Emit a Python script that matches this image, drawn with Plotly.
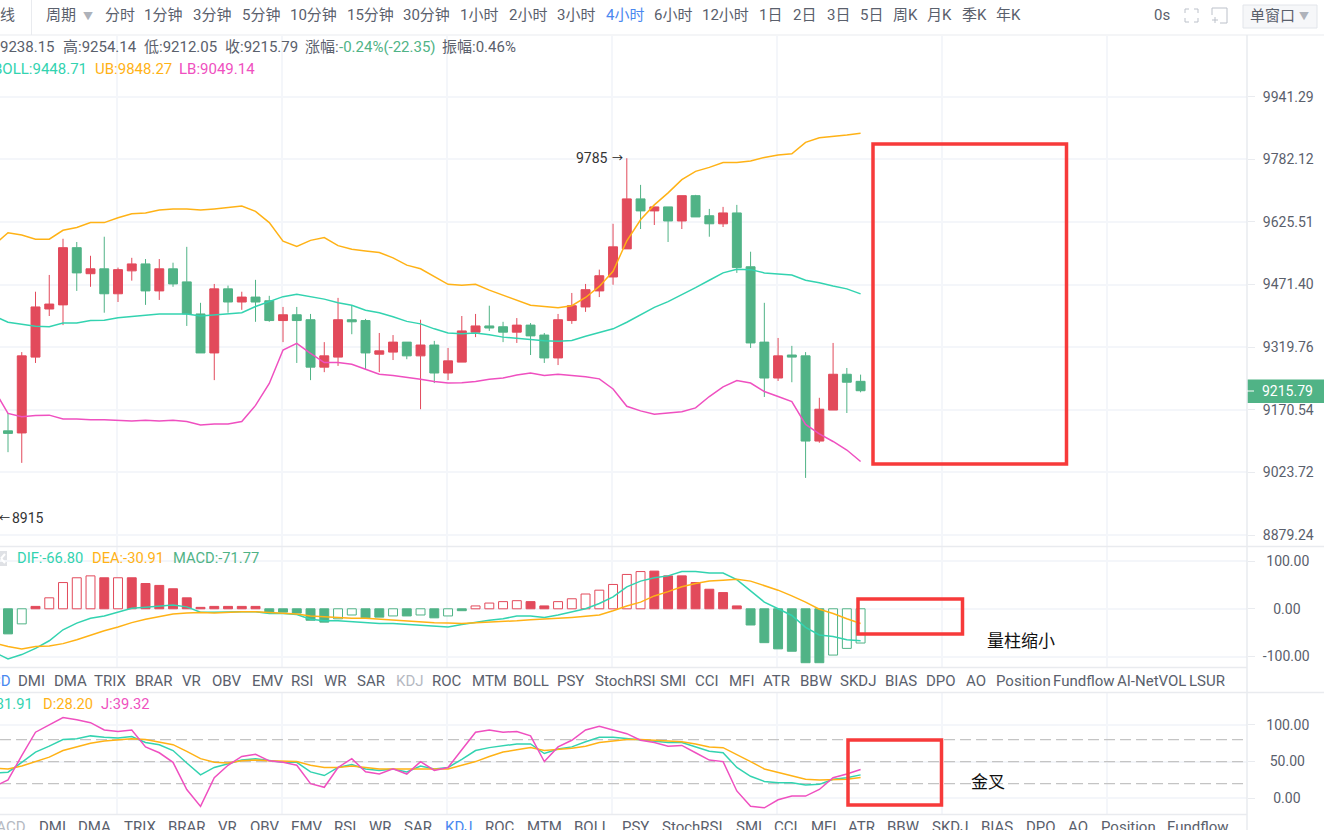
import plotly.graph_objects as go

W, H = 1324, 830
FONT = "Roboto, 'Noto Sans CJK SC', sans-serif"

UP = "#e24a5b"
DOWN = "#50b386"
TEAL = "#33d3b0"
ORANGE = "#ffb216"
PINK = "#ef50c0"
BOX_RED = "#f73a3a"
TEXT = "#5a606c"
LINE = "#e9ebef"
GRID = "#f4f6fa"

# candles, oldest first
opens = [9121, 9116, 9296, 9412, 9422, 9562, 9498, 9510, 9449, 9505, 9522, 9456, 9510, 9478, 9400, 9306,
         9461, 9429, 9441, 9432, 9384, 9398, 9386, 9272, 9296, 9386, 9384, 9303, 9308, 9332, 9299, 9325,
         9258, 9284, 9356, 9371, 9369, 9356, 9373, 9349, 9294, 9384, 9417, 9456, 9490, 9559, 9683, 9653,
         9663, 9628, 9691, 9641, 9621, 9648, 9515, 9332, 9246, 9301, 9299, 9097, 9170, 9255, 9238.15]
highs = [9163, 9308, 9454, 9495, 9584, 9576, 9542, 9589, 9513, 9537, 9534, 9534, 9525, 9564, 9427, 9473,
         9469, 9454, 9483, 9444, 9417, 9417, 9400, 9332, 9439, 9420, 9388, 9354, 9349, 9332, 9386, 9335,
         9318, 9395, 9400, 9420, 9381, 9390, 9378, 9354, 9400, 9451, 9473, 9508, 9621, 9785, 9718, 9663,
         9663, 9691, 9693, 9658, 9663, 9668, 9552, 9427, 9342, 9323, 9308, 9199, 9330, 9270, 9254.14]
lows = [9071, 9046, 9282, 9395, 9373, 9456, 9466, 9403, 9429, 9481, 9422, 9434, 9466, 9371, 9306, 9241,
        9403, 9410, 9381, 9381, 9332, 9282, 9241, 9260, 9275, 9351, 9267, 9260, 9289, 9291, 9172, 9234,
        9241, 9284, 9344, 9359, 9332, 9330, 9301, 9282, 9277, 9376, 9405, 9441, 9471, 9559, 9608, 9618,
        9576, 9608, 9638, 9589, 9613, 9500, 9318, 9201, 9239, 9236, 9011, 9093, 9170, 9163, 9212.05]
closes = [9115, 9299, 9417, 9424, 9562, 9500, 9510, 9449, 9508, 9522, 9456, 9510, 9473, 9400, 9306, 9461,
          9429, 9441, 9429, 9384, 9398, 9384, 9272, 9299, 9386, 9381, 9306, 9311, 9332, 9299, 9325, 9258,
          9287, 9359, 9371, 9366, 9356, 9373, 9347, 9294, 9386, 9420, 9459, 9493, 9564, 9683, 9653, 9663,
          9628, 9691, 9638, 9621, 9648, 9513, 9330, 9246, 9299, 9296, 9097, 9172, 9255, 9236, 9215.79]

# boll runs one bar further left than the first visible candle
boll_ub = [9569, 9599, 9593, 9583, 9583, 9605, 9612, 9624, 9624, 9636, 9646, 9648, 9655, 9658, 9658, 9655,
           9658, 9661, 9665, 9652, 9624, 9578, 9565, 9580, 9587, 9567, 9558, 9554, 9550, 9537, 9519, 9510,
           9491, 9472, 9470, 9472, 9458, 9446, 9434, 9421, 9418, 9415, 9420, 9440, 9467, 9504, 9579, 9631,
           9668, 9698, 9731, 9752, 9762, 9774, 9774, 9778, 9787, 9793, 9796, 9825, 9837, 9840, 9844, 9848.27]
boll_mid = [9395, 9380, 9375, 9370, 9369, 9378, 9378, 9384, 9385, 9391, 9394, 9397, 9400, 9400, 9400, 9395,
            9398, 9400, 9403, 9418, 9430, 9442, 9448, 9442, 9436, 9427, 9421, 9409, 9403, 9393, 9382, 9376,
            9364, 9354, 9352, 9354, 9350, 9344, 9341, 9339, 9335, 9334, 9336, 9346, 9355, 9364, 9380, 9398,
            9416, 9430, 9448, 9464, 9482, 9500, 9509, 9508, 9500, 9497, 9495, 9482, 9476, 9468, 9461, 9448.71]
boll_lb = [9218, 9162, 9154, 9157, 9158, 9149, 9149, 9147, 9147, 9146, 9144, 9146, 9144, 9146, 9143, 9135,
           9137, 9137, 9143, 9181, 9233, 9313, 9329, 9305, 9283, 9283, 9279, 9267, 9255, 9252, 9248, 9243,
           9238, 9234, 9235, 9238, 9243, 9246, 9253, 9258, 9252, 9255, 9252, 9249, 9244, 9220, 9179, 9168,
           9160, 9163, 9166, 9175, 9202, 9225, 9240, 9234, 9214, 9202, 9190, 9136, 9114, 9096, 9076, 9049.14]

macd_hist = [-52.6, -31.6, 5, 23, 55, 65, 69, 65, 65, 65, 53, 49, 42, 23, 3, 5,
             5, 5, 5, -7, -7, -9, -24, -28, -21, -13, -19, -17.5, -15, -15, -13, -19,
             -15, -4, 6, 12, 15, 17, 15, 6, 15, 21, 31, 39, 51, 72, 78, 79,
             69, 69, 55, 41, 34, 6, -34, -71, -84, -89, -113, -113, -97, -83, -71.77]
macd_hollow = [0, 1, 0, 1, 1, 1, 1, 0, 1, 0, 0, 0, 0, 0, 0, 0,
               0, 0, 0, 0, 0, 0, 0, 0, 1, 1, 0, 0, 1, 0, 1, 0,
               1, 0, 1, 1, 1, 1, 0, 0, 1, 1, 1, 1, 1, 1, 1, 0,
               0, 0, 0, 0, 0, 0, 0, 0, 0, 0, 0, 0, 1, 1, 1]
dif = [-91, -105, -96, -83, -67, -44, -30, -20, -15, -7, 1, 3, 6, 8, 4, -7,
       -7, -6, -6, -6, -10, -10, -12, -22, -25, -25, -27, -29, -31, -31, -33, -35,
       -36, -38, -33, -28, -24, -21, -15, -15, -18, -13, -7, 0, 11, 25, 46, 58,
       65, 69, 78, 78, 75, 75, 61, 37, 14, 0, -14, -39, -55, -58, -65, -66.80]
dea = [-72, -79, -84, -79, -78, -73, -65, -55, -46, -38, -29, -22, -17, -11, -9, -8,
       -9, -7, -6, -6, -8, -9, -11, -15, -17, -18, -20, -20, -22, -24, -26, -28,
       -29, -30, -31, -29, -28, -27, -25, -23, -22, -20, -18, -16, -13, -4, 6, 14,
       27, 36, 46, 53, 58, 60, 62, 58, 49, 39, 27, 14, -1, -10, -21, -30.91]

kdj_k = [34, 35.5, 49, 63, 71, 80, 81, 85, 83, 82, 84, 76, 73, 65, 48, 32,
         42, 47, 52, 54, 51, 49, 49, 36, 31, 42, 46, 40, 38, 40, 36, 44,
         40, 42, 53, 65, 69, 71, 74, 74, 61, 67, 70, 77, 83, 83, 81, 80,
         78, 76, 76, 70, 64, 62, 42, 30, 23, 21, 21, 18, 19, 26, 28, 31.91]
kdj_d = [41, 40, 44, 50, 56, 65, 70, 75, 78, 80, 81, 80, 76, 73, 64, 54,
         49, 48, 51, 52, 51, 50, 50, 45, 42, 42, 44, 42, 40, 40, 40, 41,
         40, 40, 45, 50, 57, 63, 66, 69, 65, 66, 68, 71, 76, 78, 80, 80,
         79, 78, 77, 74, 70, 69, 60, 50, 40, 35, 30, 26, 25, 25, 26, 28.20]
kdj_j = [16, 25, 58, 90, 100, 110, 107, 103, 93, 91, 93, 70, 62, 49, 12, -11,
         28, 45, 57, 60, 51, 49, 45, 20, 15, 42, 54, 36, 33, 40, 33, 50,
         38, 42, 66, 90, 93, 90, 91, 85, 50, 70, 79, 93, 98, 93, 88, 79,
         76, 71, 72, 62, 52, 50, 10, -11, -13, -2, 3, 3, 12, 28, 33, 39.32]

price_ticks = [9941.29, 9782.12, 9625.51, 9471.40, 9319.76, 9170.54, 9023.72, 8879.24]
macd_ticks = [100, 0, -100]
kdj_ticks = [100, 50, 0]
kdj_levels = [80, 50, 20]

period_tabs = [("分时", 105), ("1分钟", 144), ("3分钟", 193), ("5分钟", 242), ("10分钟", 290), ("15分钟", 347),
               ("30分钟", 403), ("1小时", 460), ("2小时", 509), ("3小时", 557), ("4小时", 606), ("6小时", 654),
               ("12小时", 702), ("1日", 759), ("2日", 793), ("3日", 827), ("5日", 860), ("周K", 893),
               ("月K", 927), ("季K", 962), ("年K", 996)]
menu_one = [("DMI", 18), ("DMA", 54), ("TRIX", 94), ("BRAR", 135), ("VR", 182), ("OBV", 212), ("EMV", 252),
            ("RSI", 291), ("WR", 324), ("SAR", 357), ("KDJ", 396), ("ROC", 432), ("MTM", 472), ("BOLL", 513),
            ("PSY", 557), ("StochRSI", 595), ("SMI", 660), ("CCI", 695), ("MFI", 729), ("ATR", 763),
            ("BBW", 800), ("SKDJ", 840), ("BIAS", 885), ("DPO", 926), ("AO", 966), ("Position", 996),
            ("Fundflow", 1053), ("AI-NetVOL", 1117), ("LSUR", 1189)]
menu_two = [("DMI", 39), ("DMA", 78), ("TRIX", 124), ("BRAR", 168), ("VR", 218), ("OBV", 250), ("EMV", 291),
            ("RSI", 334), ("WR", 369), ("SAR", 404), ("KDJ", 445), ("ROC", 485), ("MTM", 527), ("BOLL", 574),
            ("PSY", 622), ("StochRSI", 662), ("SMI", 736), ("CCI", 774), ("MFI", 811), ("ATR", 848),
            ("BBW", 887), ("SKDJ", 932), ("BIAS", 981), ("DPO", 1026), ("AO", 1068), ("Position", 1101),
            ("Fundflow", 1167)]

for series in (boll_ub, boll_mid, boll_lb, dif, dea, kdj_k, kdj_d, kdj_j):
    assert len(series) == 64
for series in (opens, highs, lows, closes, macd_hist, macd_hollow):
    assert len(series) == 63

bars = list(range(63))
line_bars = list(range(-1, 63))


def px(x):
    return x / W


def py(y):
    return 1 - y / H


annotations = []
shapes = []


def label(text, x, y, color=TEXT, size=15, anchor="left"):
    annotations.append(dict(text=text, x=px(x), y=py(y), xref="paper", yref="paper", showarrow=False,
                            xanchor=anchor, yanchor="middle", borderpad=0, borderwidth=0,
                            font=dict(color=color, size=size, family=FONT)))


def rule(x0, y0, x1, y1, color=LINE, width=1):
    shapes.append(dict(type="line", xref="paper", yref="paper", x0=px(x0), y0=py(y0), x1=px(x1), y1=py(y1),
                       line=dict(color=color, width=width)))


def box(x0, y0, x1, y1, color=BOX_RED, width=3.5, fill=None, layer="above"):
    shapes.append(dict(type="rect", xref="paper", yref="paper", x0=px(x0), y0=py(y0), x1=px(x1), y1=py(y1),
                       line=dict(color=color, width=width), fillcolor=fill, layer=layer))


fig = go.Figure()

fig.add_trace(go.Candlestick(x=bars, open=opens, high=highs, low=lows, close=closes, xaxis="x", yaxis="y",
                             increasing=dict(line=dict(color=UP, width=1), fillcolor=UP),
                             decreasing=dict(line=dict(color=DOWN, width=1), fillcolor=DOWN),
                             hoverinfo="skip", showlegend=False))
for values, color in ((boll_ub, ORANGE), (boll_mid, TEAL), (boll_lb, PINK)):
    fig.add_trace(go.Scatter(x=line_bars, y=values, mode="lines", line=dict(color=color, width=1.5),
                             xaxis="x", yaxis="y", hoverinfo="skip", showlegend=False))

hist_colors = [UP if v >= 0 else DOWN for v in macd_hist]
hist_fill = ["#ffffff" if h else c for h, c in zip(macd_hollow, hist_colors)]
fig.add_trace(go.Bar(x=bars, y=macd_hist, xaxis="x2", yaxis="y2", hoverinfo="skip", showlegend=False,
                     marker=dict(color=hist_fill, line=dict(color=hist_colors, width=1))))
for values, color in ((dif, TEAL), (dea, ORANGE)):
    fig.add_trace(go.Scatter(x=line_bars, y=values, mode="lines", line=dict(color=color, width=1.5),
                             xaxis="x2", yaxis="y2", hoverinfo="skip", showlegend=False))

for values, color in ((kdj_k, TEAL), (kdj_d, ORANGE), (kdj_j, PINK)):
    fig.add_trace(go.Scatter(x=line_bars, y=values, mode="lines", line=dict(color=color, width=1.5),
                             xaxis="x3", yaxis="y3", hoverinfo="skip", showlegend=False))

for level in kdj_levels:
    shapes.append(dict(type="line", xref="x3", yref="y3", x0=-0.58, x1=90, y0=level, y1=level, layer="between",
                       line=dict(color="#c4c4c4", width=1.2, dash="11px,5px")))

# panel frames
rule(0, 35, W, 35)
rule(31.5, 0, 31.5, 35)
rule(1247, 35, 1247, H, width=1.5)
rule(0, 546.5, W, 546.5, width=1.5)
rule(0, 667.5, 1247, 667.5, width=1.5)
rule(0, 692.5, W, 692.5, width=1.5)
rule(0, 814.5, 1247, 814.5, width=1.5)

# top toolbar
label("线", 0, 15)
label("周期", 46, 15)
label("▼", 88, 16, color="#aeb2ba", size=10, anchor="center")
for name, left in period_tabs:
    label(name, left, 15, color="#4a88f0" if name == "4小时" else TEXT)
label("0s", 1154, 15)
box(1243, 5, 1317, 28, color="#e2e5ea", width=1, fill="#f6f7f9", layer="below")
label("单窗口", 1250, 16)
label("▼", 1304, 16, color="#aeb2ba", size=10, anchor="center")

# fullscreen icon
ICON = "#bcc1ca"
for cx, cy, dx, dy in ((1185, 9, 1, 1), (1198, 9, -1, 1), (1185, 22, 1, -1), (1198, 22, -1, -1)):
    rule(cx, cy, cx + 4 * dx, cy, ICON)
    rule(cx, cy, cx, cy + 4 * dy, ICON)
# window icon
rule(1212, 8, 1227, 8, ICON)
rule(1227, 8, 1227, 23, ICON)
rule(1220, 23, 1227, 23, ICON)
rule(1212, 8, 1212, 15, ICON)
rule(1212, 20, 1218, 20, ICON)
rule(1215, 17, 1215, 23, ICON)

# ohlc and boll legends
label("9238.15", 0, 47)
label("高:9254.14", 63, 47)
label("低:9212.05", 144, 47)
label("收:9215.79", 225, 47)
label("涨幅:", 305, 47)
label("-0.24%(-22.35)", 339, 47, color=DOWN)
label("振幅:0.46%", 442, 47)
label("BOLL:9448.71", 87, 69, color=TEAL, anchor="right")
label("UB:9848.27", 95, 69, color=ORANGE)
label("LB:9049.14", 179, 69, color=PINK)

label("9785", 608, 158, color="#333333", size=14, anchor="right")
label("→", 612, 158, color="#222222", size=11)
label("←", -1, 518, color="#222222", size=11)
label("8915", 12, 518, color="#333333", size=14)

# last price tag
box(1247, 379.5, 1324, 403, color=DOWN, width=0, fill=DOWN, layer="below")
rule(1247, 391, 1254, 391, "#ffffff")
label("9215.79", 1287, 391.5, color="#ffffff", size=14, anchor="center")

# macd legend
box(-1, 551, 7, 566, color="#dfe1e5", width=0, fill="#dfe1e5", layer="below")
rule(5, 554, 1, 558.5, "#ffffff", 2)
rule(1, 558.5, 5, 563, "#ffffff", 2)
label("DIF:-66.80", 17, 558, color=TEAL, size=14.7)
label("DEA:-30.91", 92, 558, color=ORANGE, size=14.7)
label("MACD:-71.77", 173, 558, color=DOWN, size=14.7)

# indicator menu under macd
label("MACD", 10.5, 681, color="#4a88f0", anchor="right")
for name, left in menu_one:
    label(name, left, 681, color="#b5b9c2" if name == "KDJ" else TEXT)

# kdj legend
label("K:31.91", 33, 704, color=TEAL, anchor="right", size=14.7)
label("D:28.20", 43, 704, color=ORANGE, size=14.7)
label("J:39.32", 101, 704, color=PINK, size=14.7)

# indicator menu under kdj, cut by the window
label("MACD", 26, 827, color="#b5b9c2", anchor="right")
for name, left in menu_two:
    label(name, left, 827, color="#4a88f0" if name == "KDJ" else TEXT)

# hand drawn marks
box(873, 144, 1066.5, 464)
box(858, 599, 962.5, 634)
box(848, 740, 941.5, 805)
label("量柱缩小", 1021, 641, color="#111111", size=17, anchor="center")
label("金叉", 988, 782, color="#111111", size=17, anchor="center")

x_common = dict(range=[-0.582, 90.1], domain=[0, 1247 / W], showticklabels=False, ticks="", zeroline=False,
                showline=False, showgrid=True, gridcolor=GRID, gridwidth=1.5, tickmode="array",
                tickvals=[7.93, 19.93, 31.93, 43.93, 55.93, 67.93, 79.93], rangeslider=dict(visible=False))
y_common = dict(side="right", showline=False, showgrid=True, gridcolor=GRID, gridwidth=1.5, zeroline=False,
                ticks="outside", ticklen=7, tickcolor=LINE, tickmode="array", ticklabelstandoff=5,
                tickfont=dict(color=TEXT, size=14, family=FONT))

fig.update_layout(
    width=W, height=H, autosize=False, margin=dict(l=0, r=0, t=0, b=0),
    paper_bgcolor="#ffffff", plot_bgcolor="#ffffff", showlegend=False, hovermode=False,
    boxmode="overlay", boxgap=0.35, boxgroupgap=0, bargap=0.35,
    shapes=shapes, annotations=annotations,
    xaxis=dict(x_common, anchor="y"),
    xaxis2=dict(x_common, anchor="y2"),
    xaxis3=dict(x_common, anchor="y3"),
    yaxis=dict(y_common, type="log", anchor="x", domain=[py(546), py(35.5)], range=[3.94715, 4.00430],
               tickvals=price_ticks, ticktext=["%.2f" % v for v in price_ticks]),
    yaxis2=dict(y_common, anchor="x2", domain=[py(667), py(547)], range=[-122, 129.5],
                tickvals=macd_ticks, ticktext=["\u00a0100.00", "\u00a0\u00a0\u00a00.00", "-100.00"]),
    yaxis3=dict(y_common, anchor="x3", domain=[py(814), py(693)], range=[-21.4, 143.4],
                tickvals=kdj_ticks, ticktext=["\u00a0100.00", "\u00a0\u00a050.00", "\u00a0\u00a0\u00a00.00"]),
)

fig.write_html("out.html", config=dict(displayModeBar=False),
               post_script="document.body.style.margin='0';document.body.style.overflow='hidden';")
